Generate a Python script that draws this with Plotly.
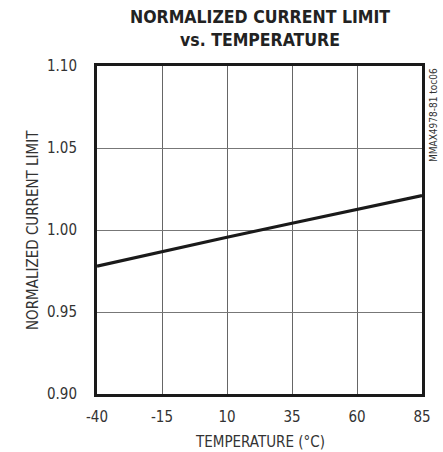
import plotly.graph_objects as go

temperature = [-40, -15, 10, 35, 60, 85]
current_limit = [0.978, 0.987, 0.9956, 1.0041, 1.0126, 1.021]

x_ticks = [-40, -15, 10, 35, 60, 85]
x_tick_labels = ["-40", "-15", "10", "35", "60", "85"]
y_ticks = [0.90, 0.95, 1.00, 1.05, 1.10]
y_tick_labels = ["0.90", "0.95", "1.00", "1.05", "1.10"]

FONT = "Liberation Sans Narrow, DejaVu Sans Condensed, Arial Narrow, sans-serif"

fig = go.Figure()
fig.add_trace(go.Scatter(
    x=temperature, y=current_limit, mode="lines",
    line=dict(color="#1a1a1a", width=3.2),
    showlegend=False, hoverinfo="skip",
))

fig.update_layout(
    width=443, height=452,
    margin=dict(l=97, r=21, t=66, b=58),
    paper_bgcolor="white", plot_bgcolor="white",
    font=dict(family=FONT, size=15, color="#333333"),
    xaxis=dict(
        range=[-40, 85], tickvals=x_ticks, ticktext=x_tick_labels,
        showgrid=True, gridcolor="#666666", gridwidth=1,
        showline=True, linecolor="#1a1a1a", linewidth=3, mirror=True,
        ticks="outside", ticklen=7, tickcolor="rgba(0,0,0,0)",
        zeroline=False, fixedrange=True,
        tickfont=dict(family=FONT, size=15, color="#333333"),
    ),
    yaxis=dict(
        range=[0.90, 1.10], tickvals=y_ticks, ticktext=y_tick_labels,
        showgrid=True, gridcolor="#777777", gridwidth=1,
        showline=True, linecolor="#1a1a1a", linewidth=3, mirror=True,
        ticks="outside", ticklen=14, tickcolor="rgba(0,0,0,0)",
        zeroline=False, fixedrange=True,
        tickfont=dict(family=FONT, size=15, color="#333333"),
    ),
    annotations=[
        dict(text="<b>NORMALIZED CURRENT LIMIT</b><br><b>vs. TEMPERATURE</b>",
             xref="paper", yref="paper", x=0.5, y=1, yshift=61,
             xanchor="center", yanchor="top", showarrow=False,
             font=dict(family=FONT, size=17.5, color="#222222")),
        dict(text="TEMPERATURE (°C)", xref="paper", yref="paper",
             x=0.5, y=0, yshift=-37, xanchor="center", yanchor="top",
             showarrow=False, font=dict(family=FONT, size=15, color="#333333")),
        dict(text="NORMALIZED CURRENT LIMIT", xref="paper", yref="paper",
             x=0, xshift=-64, y=0.5, xanchor="center", yanchor="middle",
             textangle=-90, showarrow=False,
             font=dict(family=FONT, size=15, color="#333333")),
        dict(text="MMAX4978-81 toc06", xref="paper", yref="paper",
             x=1, xshift=11, y=1, xanchor="center", yanchor="top",
             textangle=-90, showarrow=False,
             font=dict(family=FONT, size=10, color="#333333")),
    ],
)

fig.write_html("out.html")
